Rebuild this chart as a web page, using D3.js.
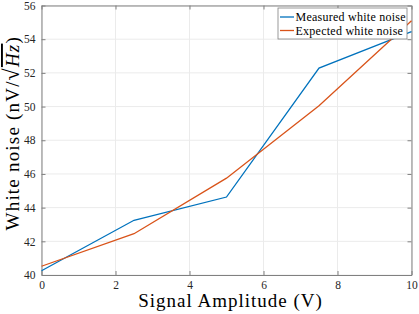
<!DOCTYPE html>
<html lang="en">
<head>
<meta charset="UTF-8">
<title>White noise</title>
<style>
  body { margin: 0; background: #fff; }
  .axis text { font-size: 11.5px; fill: #262626; }
  .axis path, .axis line { stroke: #808080; }
  .grid line { stroke: #ebebeb; }
  .label { font-size: 19px; fill: #000; letter-spacing: 1px; }
  .legend text { font-size: 12px; fill: #000; letter-spacing: 0.25px; }
</style>
<script src="https://d3js.org/d3.v7.min.js"></script>
</head>
<body>
<script>
  // data
  var amplitude = [0, 2.5, 5, 7.5, 10];
  var measured = [40.25, 43.25, 44.63, 52.28, 54.45];
  var expected = [40.52, 42.45, 45.75, 50.05, 55.1];
  var xTicks = [0, 2, 4, 6, 8, 10];
  var yTicks = [40, 42, 44, 46, 48, 50, 52, 54, 56];

  var margin = {top: 5.5, right: 7.5, bottom: 39, left: 41.5};
  var W = 419, H = 314;
  var width = W - margin.left - margin.right;
  var height = H - margin.top - margin.bottom;
  var serif = 'Liberation Serif';

  var svg = d3.select('body').append('svg')
    .attr('width', W).attr('height', H)
    .append('g')
    .attr('transform', 'translate(' + margin.left + ',' + margin.top + ')');

  var x = d3.scaleLinear().domain([0, 10]).range([0, width]);
  var y = d3.scaleLinear().domain([40, 56]).range([height, 0]);

  // grid
  svg.append('g').attr('class', 'grid')
    .selectAll('line.v').data(xTicks).enter().append('line')
    .attr('x1', d => x(d)).attr('x2', d => x(d))
    .attr('y1', 0).attr('y2', height);
  svg.append('g').attr('class', 'grid')
    .selectAll('line.h').data(yTicks).enter().append('line')
    .attr('x1', 0).attr('x2', width)
    .attr('y1', d => y(d)).attr('y2', d => y(d));

  // axes, ticks inside like matlab
  svg.append('g').attr('class', 'axis')
    .attr('transform', 'translate(0,' + height + ')')
    .call(d3.axisBottom(x).tickValues(xTicks).tickSizeInner(-4).tickSizeOuter(0).tickPadding(6));
  svg.append('g').attr('class', 'axis')
    .call(d3.axisLeft(y).tickValues(yTicks).tickSizeInner(-4).tickSizeOuter(0).tickPadding(6));
  svg.append('g').attr('class', 'axis')
    .call(d3.axisTop(x).tickValues(xTicks).tickSizeInner(-4).tickSizeOuter(0).tickFormat(''));
  svg.append('g').attr('class', 'axis')
    .attr('transform', 'translate(' + width + ',0)')
    .call(d3.axisRight(y).tickValues(yTicks).tickSizeInner(-4).tickSizeOuter(0).tickFormat(''));

  var line = d3.line()
    .x(function(d, i) { return x(amplitude[i]); })
    .y(function(d) { return y(d); });

  var series = [
    {name: 'Measured white noise', values: measured, color: '#0072BD'},
    {name: 'Expected white noise', values: expected, color: '#D95319'}
  ];

  svg.selectAll('.series').data(series).enter().append('path')
    .attr('class', 'series')
    .attr('d', d => line(d.values))
    .attr('fill', 'none')
    .attr('stroke', d => d.color)
    .attr('stroke-width', 1.3);

  // labels
  svg.append('text').attr('class', 'label')
    .attr('x', width / 2 + 4).attr('y', height + 32)
    .attr('text-anchor', 'middle')
    .text('Signal Amplitude (V)');

  var yl = svg.append('text').attr('class', 'label')
    .attr('transform', 'translate(-22.5,' + (height / 2 - 7) + ') rotate(-90)')
    .attr('text-anchor', 'middle')
    .style('letter-spacing', '1.2px');
  yl.append('tspan').text('White noise (nV/');
  yl.append('tspan').style('font-size', '22px').text('\u221A');
  yl.append('tspan').style('font-style', 'italic').style('text-decoration', 'overline').text('Hz');
  yl.append('tspan').text(')');

  // legend
  var legend = svg.append('g').attr('class', 'legend')
    .attr('transform', 'translate(' + (278 - margin.left) + ',' + (8 - margin.top) + ')');
  legend.append('rect').attr('width', 129).attr('height', 31)
    .attr('fill', '#fff').attr('stroke', '#808080').attr('stroke-width', 0.8);
  var item = legend.selectAll('.item').data(series).enter().append('g')
    .attr('transform', (d, i) => 'translate(0,' + (9 + i * 13.5) + ')');
  item.append('line').attr('x1', 2).attr('x2', 16)
    .attr('stroke', d => d.color).attr('stroke-width', 1.3);
  item.append('text').attr('x', 17.5).attr('dy', '0.35em').text(d => d.name);

  d3.selectAll('svg text').style('font-family', serif);
</script>
</body>
</html>
